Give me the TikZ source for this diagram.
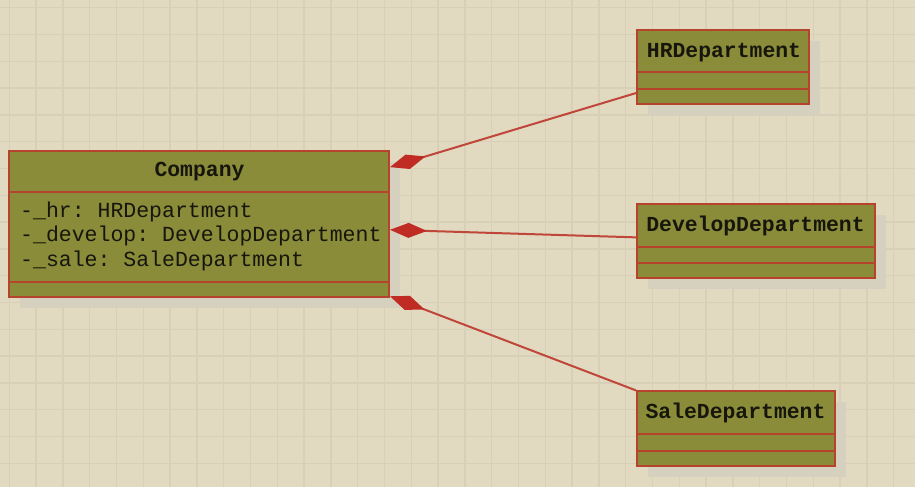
\documentclass[tikz,border=0pt]{standalone}
\usepackage{fontspec}
\setmonofont{Liberation Mono}
\usetikzlibrary{arrows.meta,calc}
\definecolor{bgc}{RGB}{225,217,192}
\definecolor{gridc}{RGB}{215,207,183}
\definecolor{olive}{RGB}{138,140,58}
\definecolor{bordc}{RGB}{182,68,44}
\definecolor{diac}{RGB}{192,44,36}
\definecolor{linec}{RGB}{192,70,58}
\definecolor{shadc}{RGB}{214,209,190}
\definecolor{txtc}{RGB}{22,22,12}
\tikzset{
  umlbox/.style={draw=bordc, fill=olive, line width=2pt, inner sep=0pt, rectangle},
  sepline/.style={draw=bordc, line width=2pt},
  shadowbox/.style={fill=shadc},
  title/.style={anchor=base, inner sep=0pt, text=txtc, font=\ttfamily\bfseries\fontsize{21.4}{25}\selectfont},
  attr/.style={anchor=base west, inner sep=0pt, text=txtc, font=\ttfamily\fontsize{21.5}{25}\selectfont},
  comp/.style={draw=linec, line width=2pt, {Diamond[length=37pt,width=15pt,fill=diac,color=diac]}-}
}
\begin{document}
\begin{tikzpicture}[x=1pt,y=-1pt]
\useasboundingbox (0,0) rectangle (915,487);
\fill[bgc] (0,0) rectangle (915,487);
\foreach \i in {0,...,34} \draw[gridc, line width=1.5pt] ({9.3+26.8*\i},0) -- ({9.3+26.8*\i},487);
\foreach \j in {0,...,18} \draw[gridc, line width=1.5pt] (0,{7.7+26.8*\j}) -- (915,{7.7+26.8*\j});
% shadows
\fill[shadowbox] (20,162) rectangle (400,308);
\fill[shadowbox] (648,41) rectangle (820,115);
\fill[shadowbox] (648,215) rectangle (886,289);
\fill[shadowbox] (648,402) rectangle (846,477);
% boxes
\node[umlbox, minimum width=380pt, minimum height=146pt] (company) at (199,224) {};
\node[umlbox, minimum width=172pt, minimum height=74pt] (hr) at (723,67) {};
\node[umlbox, minimum width=238pt, minimum height=74pt] (dev) at (756,241) {};
\node[umlbox, minimum width=198pt, minimum height=75pt] (sale) at (736,428.5) {};
% separators
\draw[sepline] (company.west |- 0,192) -- (company.east |- 0,192);
\draw[sepline] (company.west |- 0,282) -- (company.east |- 0,282);
\draw[sepline] (hr.west |- 0,72) -- (hr.east |- 0,72);
\draw[sepline] (hr.west |- 0,88.5) -- (hr.east |- 0,88.5);
\draw[sepline] (dev.west |- 0,246.5) -- (dev.east |- 0,246.5);
\draw[sepline] (dev.west |- 0,263) -- (dev.east |- 0,263);
\draw[sepline] (sale.west |- 0,434) -- (sale.east |- 0,434);
\draw[sepline] (sale.west |- 0,450.5) -- (sale.east |- 0,450.5);
% texts
\node[title] (tcompany) at (199.5,176) {Company};
\node[title] (thr) at (724,57) {HRDepartment};
\node[title] (tdev) at (755.5,231) {DevelopDepartment};
\node[title] (tsale) at (735.5,418.3) {SaleDepartment};
\node[attr] (a1) at (20,217) {-\_hr: HRDepartment};
\node[attr] (a2) at (20,241.5) {-\_develop: DevelopDepartment};
\node[attr] (a3) at (20,266) {-\_sale: SaleDepartment};
% connectors
\draw[comp] (company) -- (hr);
\draw[comp] (company) -- (dev);
\draw[comp] (company) -- (sale);
\end{tikzpicture}
\end{document}
